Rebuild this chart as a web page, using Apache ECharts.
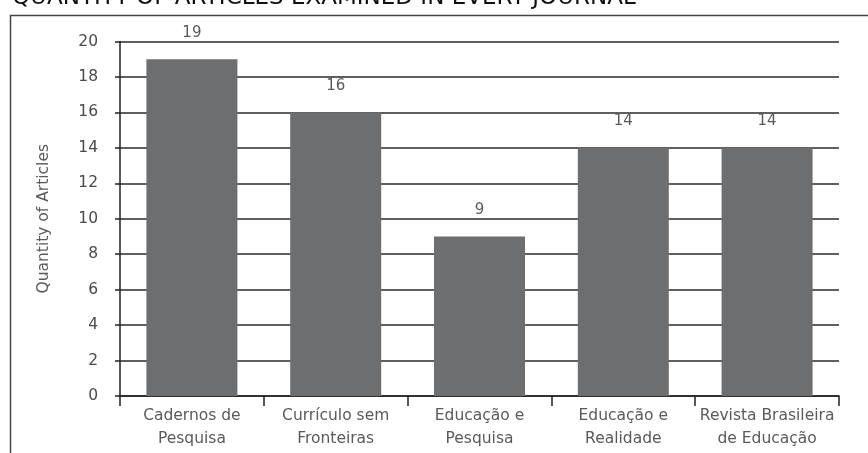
<!DOCTYPE html>
<html>
<head>
<meta charset="utf-8">
<script src="https://cdn.jsdelivr.net/npm/echarts@6/dist/echarts.min.js"></script>
<style>
  html, body { margin: 0; padding: 0; background: #fff; }
  #chart { width: 868px; height: 453px; }
</style>
</head>
<body>
<div id="chart"></div>
<script>
// journals and article counts
const journals = [
  'Cadernos de\nPesquisa',
  'Currículo sem\nFronteiras',
  'Educação e\nPesquisa',
  'Educação e\nRealidade',
  'Revista Brasileira\nde Educação'
]
const articleCounts = [19, 16, 9, 14, 14]
const yTicks = { min: 0, max: 20, step: 2 }

const chart = echarts.init(document.getElementById('chart'))

chart.setOption({
  animation: false,
  textStyle: { fontFamily: 'DejaVu Sans' },
  graphic: [
    // frame of the figure, cut at right and bottom
    {
      type: 'rect',
      z: -10,
      shape: { x: 10.5, y: 15.5, width: 1000, height: 1000 },
      style: { fill: 'none', stroke: '#444', lineWidth: 1.5 }
    },
    {
      type: 'text',
      left: 12,
      top: -13,
      style: {
        text: 'QUANTITY OF ARTICLES EXAMINED IN EVERY JOURNAL',
        fill: '#111',
        font: '23px "DejaVu Sans"'
      }
    }
  ],
  grid: { left: 120, right: 29, top: 41.5, bottom: 57 },
  xAxis: {
    type: 'category',
    data: journals,
    axisLine: { lineStyle: { color: '#222', width: 1.5 } },
    axisTick: { show: true, interval: 0, length: 10, lineStyle: { color: '#222', width: 1.5 } },
    axisLabel: { interval: 0, color: '#5a5a5a', fontSize: 15.5, lineHeight: 23, margin: 8 }
  },
  yAxis: {
    type: 'value',
    min: yTicks.min,
    max: yTicks.max,
    interval: yTicks.step,
    name: 'Quantity of Articles',
    nameLocation: 'middle',
    nameGap: 68,
    nameTextStyle: { color: '#5a5a5a', fontSize: 15.5 },
    axisLine: { show: true, lineStyle: { color: '#222', width: 1.5 } },
    axisTick: { show: true, length: 5, lineStyle: { color: '#222', width: 1.5 } },
    axisLabel: { color: '#4a4a4a', fontSize: 15.5, margin: 22 },
    splitLine: { lineStyle: { color: '#2a2a2a', width: 1.5 } }
  },
  series: [{
    type: 'bar',
    data: articleCounts,
    barWidth: 91,
    itemStyle: { color: '#6d6e70' },
    label: {
      show: true,
      position: 'top',
      distance: 19,
      color: '#5a5a5a',
      fontSize: 15
    }
  }]
})
</script>
</body>
</html>
